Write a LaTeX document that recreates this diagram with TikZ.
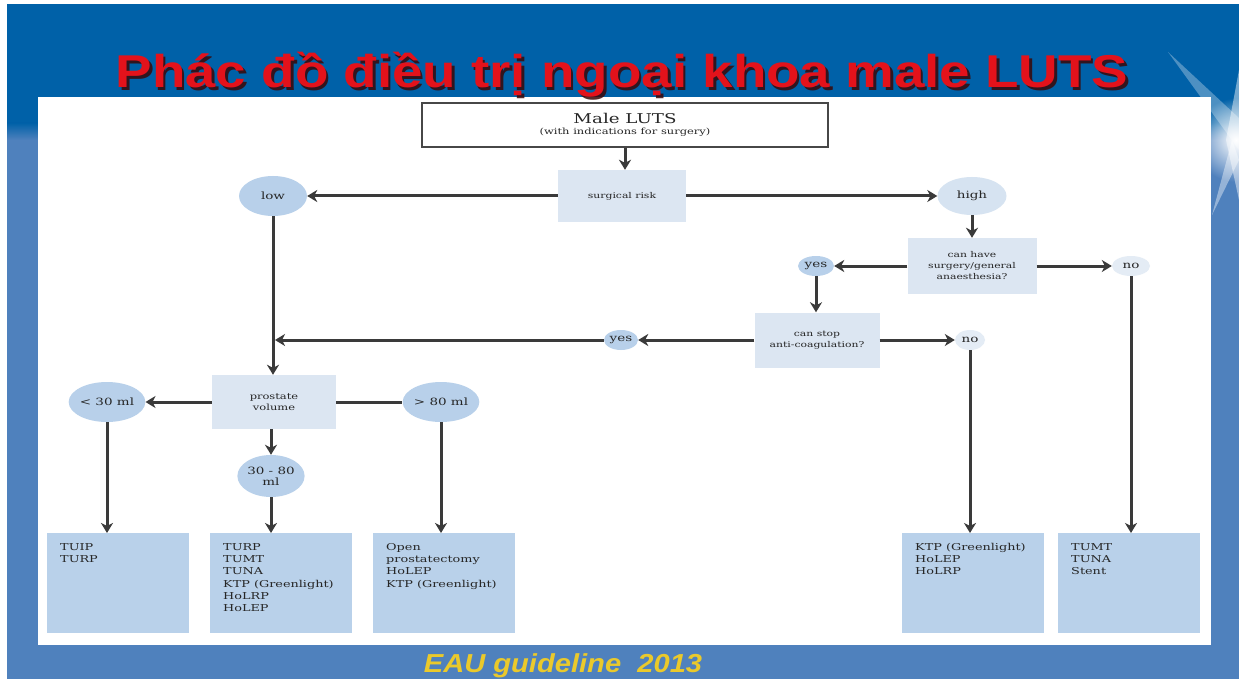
\documentclass[tikz,border=0pt]{standalone}
\usepackage{fontspec}
\usetikzlibrary{shapes.geometric,arrows.meta,fadings}
\newfontfamily\diagfont[FakeStretch=1.35]{DejaVu Serif}
\newfontfamily\titlefont[FakeStretch=1.19]{Liberation Sans}
\newfontfamily\notefont[FakeStretch=1.12]{Liberation Sans}
\definecolor{topblue}{HTML}{0061A8}
\definecolor{bgblue}{HTML}{4F81BD}
\definecolor{titlered}{HTML}{E3121B}
\definecolor{shadowred}{HTML}{3A0808}
\definecolor{noteyellow}{HTML}{EAC92B}
\definecolor{ink}{HTML}{262626}
\definecolor{wire}{HTML}{3A3A3A}
\definecolor{paleblue}{HTML}{DCE6F2}
\definecolor{boxblue}{HTML}{B9D1EA}
\definecolor{ovalblue}{HTML}{B8D0EA}
\definecolor{ovalpale}{HTML}{D6E3F1}
\definecolor{ovalfaint}{HTML}{E4ECF5}
\tikzfading[name=glowfade, inner color=transparent!0, outer color=transparent!100]
\newcommand\restext[1]{\parbox[t][100pt][t]{116pt}{\raggedright\rule{0pt}{17pt}#1}}
\begin{document}
\begin{tikzpicture}[x=1pt,y=-1pt,
  every node/.style={text=ink, font=\diagfont},
  arr/.style={draw=wire, line width=3pt, -{Stealth[length=10pt,width=12pt,inset=3pt]}},
  plainline/.style={draw=wire, line width=3pt},
  lutsbox/.style={rectangle, draw=ink!85, line width=1.8pt, fill=white, minimum width=406pt, minimum height=44pt, align=center, inner sep=0pt},
  qbox/.style={rectangle, fill=paleblue, align=center, inner sep=0pt, font=\diagfont\fontsize{8}{11}\selectfont},
  oval/.style={ellipse, inner sep=0pt, font=\diagfont\fontsize{10}{11}\selectfont, align=center},
  resbox/.style={rectangle, fill=boxblue, inner xsep=13pt, inner ysep=0pt, anchor=north west, font=\diagfont\fontsize{9.5}{12.3}\selectfont}]
\useasboundingbox (0,0) rectangle (1239,679);
% slide background
\fill[white] (0,0) rectangle (1239,679);
\fill[bgblue] (7,4) rectangle (1239,679);
\fill[topblue] (7,4) rectangle (1239,124);
\shade[top color=topblue, bottom color=bgblue] (7,123) rectangle (1239,140);
% light burst at the right edge
\fill[white, opacity=0.3] (1239,118) -- (1168,52) -- (1239,150) -- cycle;
\fill[white, opacity=0.4] (1232,140) -- (1212,215) -- (1239,160) -- cycle;
\fill[white, opacity=0.45] (1239,70) -- (1226,140) -- (1239,200) -- cycle;
\fill[white, path fading=glowfade] (1236,140) circle (42);
% content panel
\fill[white] (38,97) rectangle (1211,645);
% title and source line
\node[anchor=base, font=\titlefont\bfseries\fontsize{46}{50}\selectfont, text=shadowred, opacity=0.85] (titleshadow) at (624.5,90.5) {Phác đồ điều trị ngoại khoa male LUTS};
\node[anchor=base, font=\titlefont\bfseries\fontsize{46}{50}\selectfont, text=titlered] (title) at (622,88) {Phác đồ điều trị ngoại khoa male LUTS};
\node[anchor=base, font=\notefont\bfseries\itshape\fontsize{26}{28}\selectfont, text=noteyellow] (source) at (563,672) {EAU guideline\ \ 2013};
% decision nodes
\node[lutsbox] (luts) at (625,125) {{\fontsize{13.5}{15}\selectfont Male LUTS}\\[-1pt]{\fontsize{8.5}{10}\selectfont (with indications for surgery)}};
\node[qbox, minimum width=128pt, minimum height=52pt] (risk) at (622,196) {surgical risk};
\node[oval, fill=ovalblue, minimum width=68pt, minimum height=40pt] (low) at (273,196) {low};
\node[oval, fill=ovalpale, minimum width=69pt, minimum height=38pt] (high) at (972,196) {high};
\node[qbox, minimum width=129pt, minimum height=56pt] (canhave) at (972,266) {can have\\surgery/general\\anaesthesia?};
\node[oval, fill=ovalblue, minimum width=36pt, minimum height=20pt] (yes1) at (816,266) {yes};
\node[oval, fill=ovalfaint, minimum width=38pt, minimum height=20pt] (no1) at (1131,266) {no};
\node[qbox, minimum width=125pt, minimum height=55pt] (canstop) at (817,340) {can stop\\anti-coagulation?};
\node[oval, fill=ovalblue, minimum width=34pt, minimum height=20pt] (yes2) at (621,340) {yes};
\node[oval, fill=ovalfaint, minimum width=30pt, minimum height=20pt] (no2) at (970,340) {no};
\node[qbox, minimum width=124pt, minimum height=54pt, font=\diagfont\fontsize{8.5}{10.5}\selectfont] (pv) at (274,402) {prostate\\volume};
\node[oval, fill=ovalblue, minimum width=67pt, minimum height=40pt] (lt30) at (107,402) {< 30 ml};
\node[oval, fill=ovalblue, minimum width=68pt, minimum height=40pt] (gt80) at (441,402) {> 80 ml};
\node[oval, fill=ovalblue, minimum width=62pt, minimum height=42pt] (mid) at (271,476) {30 - 80\\ml};
\coordinate (join) at (275,340);
% treatment options
\node[resbox] (b1) at (47,533) {\restext{TUIP\\TURP}};
\node[resbox] (b2) at (210,533) {\restext{TURP\\TUMT\\TUNA\\KTP (Greenlight)\\HoLRP\\HoLEP}};
\node[resbox] (b3) at (373,533) {\restext{Open\\prostatectomy\\HoLEP\\KTP (Greenlight)}};
\node[resbox] (b4) at (902,533) {\restext{KTP (Greenlight)\\HoLEP\\HoLRP}};
\node[resbox] (b5) at (1058,533) {\restext{TUMT\\TUNA\\Stent}};
% connectors
\draw[arr] (luts.south) -- (luts.south |- risk.north);
\draw[arr] (risk.west) -- (low.east);
\draw[arr] (risk.east) -- (high.west);
\draw[arr] (high.south) -- (canhave.north);
\draw[arr] (canhave.west) -- (yes1.east);
\draw[arr] (canhave.east) -- (no1.west);
\draw[arr] (yes1.south) -- (yes1.south |- canstop.north);
\draw[arr] (canstop.west) -- (yes2.east);
\draw[arr] (yes2.west) -- (join);
\draw[arr] (canstop.east) -- (no2.west);
\draw[arr] (low.south) -- (low.south |- pv.north);
\draw[arr] (pv.west) -- (lt30.east);
\draw[plainline] (pv.east) -- (gt80.west);
\draw[arr] (mid.north |- pv.south) -- (mid.north);
\draw[arr] (lt30.south) -- (lt30.south |- b1.north);
\draw[arr] (mid.south) -- (mid.south |- b2.north);
\draw[arr] (gt80.south) -- (gt80.south |- b3.north);
\draw[arr] (no2.south) -- (no2.south |- b4.north);
\draw[arr] (no1.south) -- (no1.south |- b5.north);
\end{tikzpicture}
\end{document}
